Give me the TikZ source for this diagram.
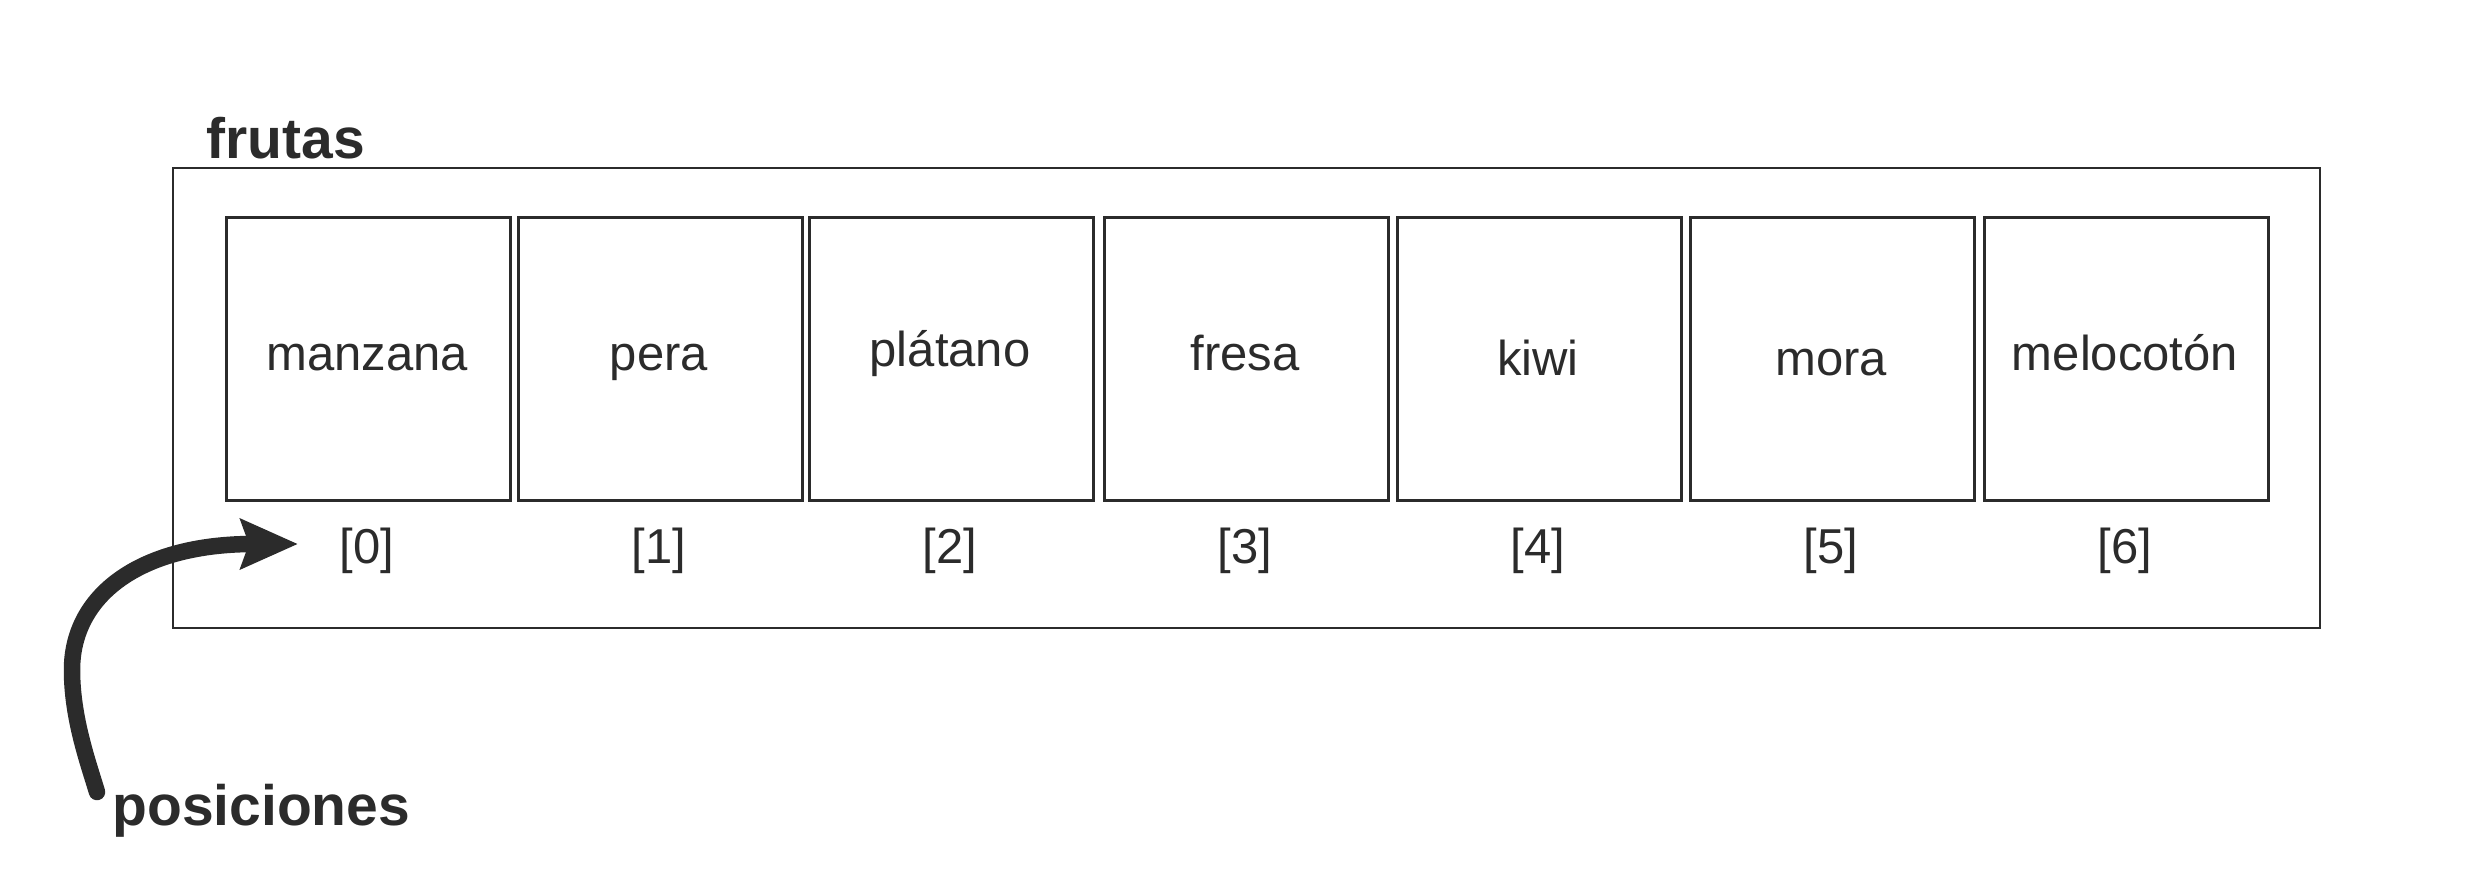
\documentclass[tikz,border=0pt]{standalone}
\usepackage{fontspec}
\setmainfont{Liberation Sans}
\usetikzlibrary{arrows.meta}
\definecolor{ink}{HTML}{2B2B2B}
\begin{document}
\begin{tikzpicture}[x=0.5pt,y=-0.5pt,
  cell/.style={draw=ink, line width=1.25pt, minimum width=142pt, minimum height=141.5pt, inner sep=0pt, anchor=north west},
  frame/.style={draw=ink, line width=1.25pt, minimum width=1073.5pt, minimum height=230pt, inner sep=0pt},
  fruit/.style={text=ink, font=\fontsize{24.5pt}{29pt}\selectfont, anchor=base, inner sep=0pt},
  idx/.style={fruit},
  title/.style={text=ink, font=\bfseries\fontsize{28.5pt}{34pt}\selectfont, anchor=base west, inner sep=0pt},
  pointer/.style={draw=ink, line width=8.25pt, line cap=round, -{Stealth[length=28.5pt, width=24.5pt, inset=4pt]}}
]
\useasboundingbox (0,0) rectangle (2482,875);
\node[frame] (frame) at (1246.5,398) {};
\node[title] (frutas) at (206,158) {frutas};
\foreach \i/\lx/\name/\base in {0/225/manzana/370, 1/517/pera/370.7, 2/808/plátano/366, 3/1103/fresa/370.7, 4/1396/kiwi/375, 5/1689/mora/375.5, 6/1983/melocotón/370} {
  \node[cell] (b\i) at (\lx,216) {};
  \node[fruit] (t\i) at (\lx+142,\base) {\name};
  \node[idx] (i\i) at (\lx+142,563) {[\i]};
}
\node[title] (pos) at (112,825) {posiciones};
\coordinate (tail) at (97,792);
\coordinate (tip) at (298,544);
\draw[pointer] (tail) .. controls (88,762) and (72,718) .. (72,670) .. controls (72,595) and (140,545) .. (250,544) -- (tip);
\end{tikzpicture}
\end{document}
